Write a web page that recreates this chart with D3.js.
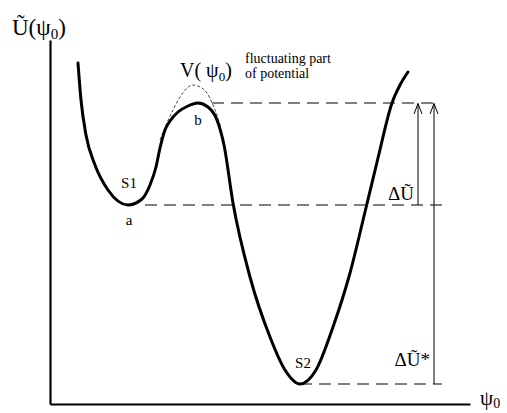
<!DOCTYPE html>
<html><head><meta charset="utf-8">
<script src="https://cdn.jsdelivr.net/npm/d3@7"></script>
<style>body{margin:0;background:#fff}svg{display:block}text{font-family:"Liberation Serif","Times New Roman",serif;fill:#000}</style>
</head><body>
<script>
// main potential curve U~(psi0)
const psi = [28,31,36,45,58,78,92,100,106,110,115,120,128,138,148,158,167,174,183,200,220,235,250,266,283,300,315,328,342,350,358];
const U   = [341,304,269,239,214,199,205,219,237,256,274,283,292,298,301,297,284,259,201,127,67,34,20,34,77,131,192,246,301,319,332];
// fluctuating part V(psi0) near the barrier
const psiV = [110,116,123,130,137,143,150,157,163,168,171];
const V    = [264,279,294,307,316,319,317,311,299,286,276];
// reference levels: barrier b, minimum a, minimum S2
const levels = [{name:"b",u:301,from:162,to:390},{name:"a",u:199,from:95,to:397},{name:"S2",u:20,from:250,to:392}];
const arrows = [{psi:368,from:199,to:301,label:"ΔŨ"},{psi:384,from:20,to:301,label:"ΔŨ*"}];

const W=507,H=413;
const svg=d3.select("body").append("svg").attr("width",W).attr("height",H);
const x=d3.scaleLinear().domain([0,420]).range([50,470]);
const y=d3.scaleLinear().domain([0,364]).range([404,40]);

// axes
svg.append("g").attr("transform",`translate(0,${y(0)})`).call(d3.axisBottom(x).tickValues([]).tickSizeOuter(0));
svg.append("g").attr("transform",`translate(${x(0)},0)`).call(d3.axisLeft(y).tickValues([]).tickSizeOuter(0));
svg.selectAll(".domain").attr("stroke","#000").attr("stroke-width",2.2);

// dashed levels
svg.selectAll(".lvl").data(levels).join("line")
  .attr("x1",d=>x(d.from)).attr("x2",d=>x(d.to)).attr("y1",d=>y(d.u)).attr("y2",d=>y(d.u))
  .attr("stroke","#000").attr("stroke-width",1).attr("stroke-dasharray","12,7");

// arrows
const ag=svg.selectAll(".arr").data(arrows).join("g");
ag.append("line").attr("x1",d=>x(d.psi)).attr("x2",d=>x(d.psi)).attr("y1",d=>y(d.from)).attr("y2",d=>y(d.to)+0.5)
  .attr("stroke","#000").attr("stroke-width",1);
ag.append("path").attr("d",d=>`M${x(d.psi)-4},${y(d.to)+11} L${x(d.psi)},${y(d.to)+0.5} L${x(d.psi)+4},${y(d.to)+11}`)
  .attr("fill","none").attr("stroke","#000").attr("stroke-width",1);

// V dashed curve
const line=d3.line().curve(d3.curveMonotoneX);
svg.append("path").attr("d",line(psiV.map((p,i)=>[x(p),y(V[i])])))
  .attr("fill","none").attr("stroke","#333").attr("stroke-width",0.9).attr("stroke-dasharray","3,2");
// main curve
svg.append("path").attr("d",line(psi.map((p,i)=>[x(p),y(U[i])])))
  .attr("fill","none").attr("stroke","#000").attr("stroke-width",3).attr("stroke-linecap","round");

// labels
function lab(t,xx,yy,size,anchor){return svg.append("text").attr("x",xx).attr("y",yy).attr("font-size",size).attr("text-anchor",anchor||"start").text(t);}
const t1=svg.append("text").attr("x",12).attr("y",35).attr("font-size",23);
t1.append("tspan").text("Ũ(ψ");
t1.append("tspan").attr("font-size",15).attr("dy",4).text("0");
t1.append("tspan").attr("dy",-4).text(")");
const t2=svg.append("text").attr("x",180).attr("y",77).attr("font-size",20);
t2.append("tspan").text("V( ψ");
t2.append("tspan").attr("font-size",13).attr("dy",4).text("0");
t2.append("tspan").attr("dy",-4).text(")");
lab("fluctuating part",245,63,14);
lab("of potential",245,78,14);
lab("S1",129,188,15,"middle");
lab("a",129,225,15,"middle");
lab("b",198,125,15,"middle");
lab("S2",303,368,15,"middle");
ag.append("text").attr("x",d=>x(d.psi)-4).attr("y",d=>d.label==="ΔŨ"?200:366).attr("font-size",19).attr("text-anchor","end").text(d=>d.label);
const t3=svg.append("text").attr("x",480).attr("y",405).attr("font-size",21);
t3.append("tspan").text("ψ");
t3.append("tspan").attr("font-size",14).attr("dy",3).text("0");
</script>
</body></html>
